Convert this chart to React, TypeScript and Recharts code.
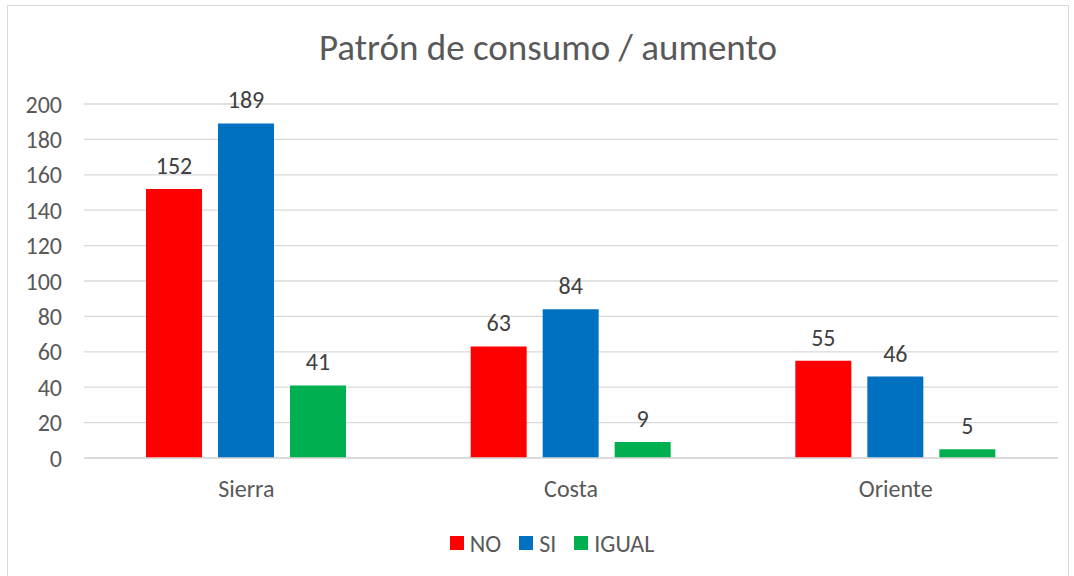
import { BarChart, Bar, XAxis, YAxis, CartesianGrid, Legend, LabelList } from "recharts";

const regions = ["Sierra", "Costa", "Oriente"];
const noValues = [152, 63, 55];
const siValues = [189, 84, 46];
const igualValues = [41, 9, 5];
const yTicks = [0, 20, 40, 60, 80, 100, 120, 140, 160, 180, 200];

const seriesNames = ["NO", "SI", "IGUAL"];
const seriesColors = ["#ff0000", "#0070c0", "#00b050"];

const data = regions.map((region, i) => ({
  region,
  NO: noValues[i],
  SI: siValues[i],
  IGUAL: igualValues[i],
}));

const font = "Calibri, Carlito, Lato, sans-serif";
const textColor = "#595959";

const LegendBox = () => (
  <div style={{ height: 30, paddingLeft: 46, display: "flex", justifyContent: "center", alignItems: "center", gap: 18 }}>
    {seriesNames.map((name, i) => (
      <div key={name} style={{ display: "flex", alignItems: "center", gap: 6 }}>
        <span style={{ width: 14, height: 14, background: seriesColors[i], display: "inline-block" }} />
        <span style={{ fontSize: 24, color: textColor, fontFamily: font }}>{name}</span>
      </div>
    ))}
  </div>
);

const App = () => {
  return (
    <div style={{ position: "absolute", left: 0, top: 0, width: 1074, height: 576, background: "#fff", fontFamily: font }}>
      <div
        style={{
          position: "absolute",
          left: 7,
          top: 5,
          width: 1062,
          height: 580,
          border: "1px solid #d9d9d9",
          boxSizing: "border-box",
        }}
      />
      <div
        style={{
          position: "absolute",
          left: 0,
          top: 26,
          width: 1096,
          textAlign: "center",
          fontSize: 37,
          color: textColor,
          lineHeight: "44px",
        }}
      >
        Patrón de consumo / aumento
      </div>
      <div style={{ position: "absolute", left: 0, top: 0 }}>
        <BarChart
          width={1074}
          height={576}
          data={data}
          margin={{ top: 104, right: 16, left: 0, bottom: 38 }}
          barSize={56}
          barGap={16}
        >
          <CartesianGrid vertical={false} stroke="#d9d9d9" strokeWidth={1.3} />
          <XAxis
            dataKey="region"
            axisLine={{ stroke: "#d9d9d9", strokeWidth: 1.3 }}
            tickLine={false}
            tickMargin={16}
            height={50}
            tick={{ fontSize: 24, fill: textColor, fontFamily: font }}
          />
          <YAxis
            width={84}
            domain={[0, 200]}
            ticks={yTicks}
            axisLine={false}
            tickLine={false}
            tickSize={0}
            tickMargin={22}
            tick={{ fontSize: 24, fill: textColor, fontFamily: font }}
          />
          <Legend verticalAlign="bottom" content={<LegendBox />} wrapperStyle={{ bottom: 18 }} />
          {seriesNames.map((name, i) => (
            <Bar key={name} dataKey={name} fill={seriesColors[i]} isAnimationActive={false}>
              <LabelList dataKey={name} position="top" offset={15} style={{ fontSize: 24, fill: "#404040", fontFamily: font }} />
            </Bar>
          ))}
        </BarChart>
      </div>
    </div>
  );
};

export default App;
